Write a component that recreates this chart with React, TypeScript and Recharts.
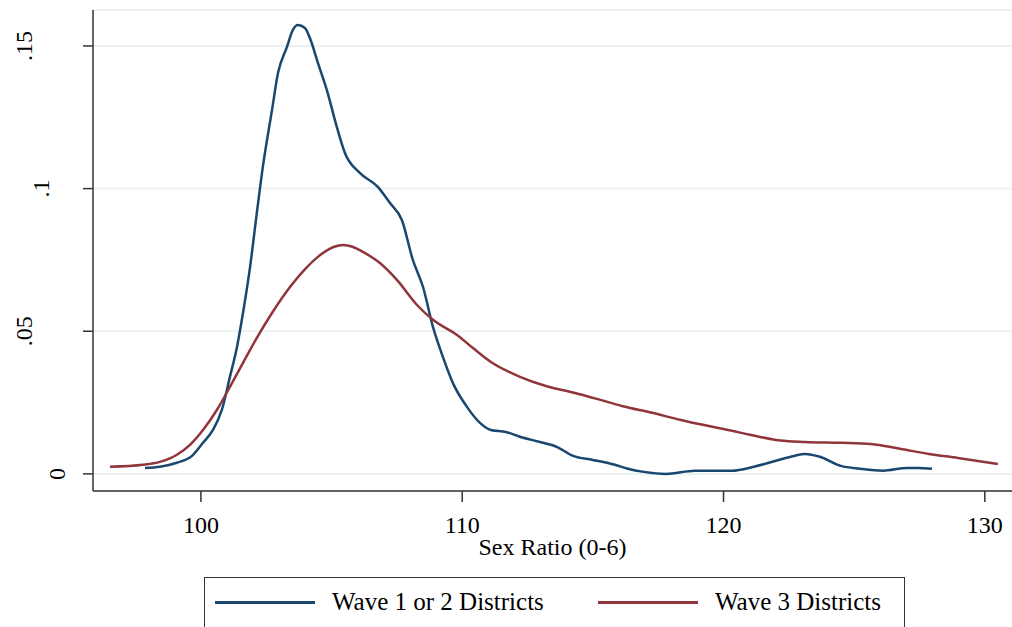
import React from "react";
import { LineChart, Line, XAxis, YAxis, CartesianGrid, Legend, Label } from "recharts";

const waveOneTwoX = [97.86, 98.43, 99.08, 99.66, 100.08, 100.46, 100.8, 101.11, 101.38, 101.61, 101.88, 102.14, 102.37, 102.72, 102.95, 103.29, 103.52, 103.71, 103.98, 104.17, 104.48, 104.82, 105.2, 105.51, 106.08, 106.77, 107.23, 107.69, 108.11, 108.5, 108.88, 109.26, 109.64, 110.18, 110.68, 111.1, 111.67, 112.21, 112.97, 113.62, 114.24, 115.0, 115.84, 116.34, 116.95, 117.8, 118.91, 120.32, 121.16, 122.01, 122.69, 123.12, 123.69, 124.49, 125.22, 126.1, 127.02, 127.44, 127.98];
const waveOneTwoY = [0.0021, 0.0025, 0.0039, 0.0063, 0.0109, 0.0154, 0.0224, 0.034, 0.0445, 0.0564, 0.0725, 0.0915, 0.1076, 0.1275, 0.1405, 0.1496, 0.1556, 0.1573, 0.1563, 0.1528, 0.144, 0.1345, 0.1216, 0.1125, 0.1055, 0.1006, 0.095, 0.089, 0.075, 0.0655, 0.0515, 0.041, 0.0319, 0.0235, 0.0179, 0.0154, 0.0147, 0.013, 0.0112, 0.0095, 0.0063, 0.0049, 0.0032, 0.0018, 0.0007, 0.0, 0.0011, 0.0011, 0.0025, 0.0046, 0.0063, 0.007, 0.006, 0.0028, 0.0018, 0.0011, 0.0021, 0.0021, 0.0018];

const waveThreeX = [96.52, 97.78, 98.43, 99.08, 99.58, 100.08, 100.61, 101.11, 101.61, 102.14, 102.72, 103.41, 104.06, 104.67, 105.1, 105.45, 105.8, 106.2, 106.85, 107.5, 108.27, 108.88, 109.8, 110.41, 111.1, 112.21, 113.2, 114.16, 115.15, 116.11, 117.26, 118.37, 119.21, 120.32, 121.01, 122.01, 123.12, 124.49, 125.64, 126.75, 127.86, 128.97, 130.5];
const waveThreeY = [0.0025, 0.0032, 0.0042, 0.0067, 0.0102, 0.0154, 0.0224, 0.0305, 0.0389, 0.0477, 0.0564, 0.0655, 0.0725, 0.0774, 0.0796, 0.0802, 0.0796, 0.0778, 0.0739, 0.068, 0.0592, 0.054, 0.0487, 0.0441, 0.0392, 0.034, 0.0308, 0.0287, 0.0263, 0.0238, 0.0214, 0.0189, 0.0172, 0.0151, 0.0137, 0.0119, 0.0112, 0.0109, 0.0105, 0.0088, 0.007, 0.0056, 0.0035];

const xTicks = [100, 110, 120, 130];
const yTicks = [0, 0.05, 0.1, 0.15];
const yTickLabels = ["0", ".05", ".1", ".15"];

const seriesNames = ["Wave 1 or 2 Districts", "Wave 3 Districts"];
const BLUE = "#1a476f";
const RED = "#90353b";
const FONT = "'Liberation Serif', 'Times New Roman', serif";

const waveOneTwo = waveOneTwoX.map((x, i) => ({ x, y: waveOneTwoY[i] }));
const waveThree = waveThreeX.map((x, i) => ({ x, y: waveThreeY[i] }));

const XTick = (props: any) => {
  const { x, y, payload } = props;
  return (
    <text x={x} y={y + 29} textAnchor="middle" fontFamily={FONT} fontSize={24} fill="#000">
      {payload.value}
    </text>
  );
};

const YTick = (props: any) => {
  const { y, payload } = props;
  const idx = yTicks.indexOf(payload.value);
  const label = idx >= 0 ? yTickLabels[idx] : String(payload.value);
  const cx = 74 - 16.5 * label.length;
  return (
    <text
      x={cx}
      y={y}
      textAnchor="middle"
      dominantBaseline="central"
      transform={`rotate(-90, ${cx}, ${y})`}
      fontFamily={FONT}
      fontSize={24}
      fill="#000"
    >
      {label}
    </text>
  );
};

const LegendBox = () => (
  <div
    style={{
      position: "relative",
      width: 701,
      height: 70,
      border: "1.5px solid #333",
      boxSizing: "border-box",
      background: "#fff",
      fontFamily: FONT,
      fontSize: 25,
      color: "#000",
    }}
  >
    <div style={{ position: "absolute", left: 10, top: 23, width: 100, height: 3, background: BLUE }} />
    <div style={{ position: "absolute", left: 127, top: 9, whiteSpace: "nowrap", lineHeight: "30px" }}>{seriesNames[0]}</div>
    <div style={{ position: "absolute", left: 393, top: 23, width: 100, height: 3, background: RED }} />
    <div style={{ position: "absolute", left: 510, top: 9, whiteSpace: "nowrap", lineHeight: "30px" }}>{seriesNames[1]}</div>
  </div>
);

export default function App() {
  return (
    <div style={{ position: "absolute", left: 0, top: 0, width: 1012, height: 627, background: "#fff", overflow: "hidden" }}>
      <LineChart width={1012} height={627} margin={{ top: 10, right: 0, bottom: 36, left: 0 }}>
        <CartesianGrid horizontal={true} vertical={false} stroke="#eaf2f3" strokeWidth={2} />
        <XAxis
          type="number"
          dataKey="x"
          domain={[95.87, 131.04]}
          ticks={xTicks}
          allowDataOverflow
          height={30}
          tickSize={11}
          tickLine={{ stroke: "#333", strokeWidth: 1.5 }}
          axisLine={{ stroke: "#333", strokeWidth: 1.5 }}
          tick={<XTick />}
        >
          <Label
            content={(p: any) => {
              const vb = p.viewBox || {};
              return (
                <text x={vb.x + vb.width / 2} y={vb.y + 64} textAnchor="middle" fontFamily={FONT} fontSize={24} fill="#000">
                  Sex Ratio (0-6)
                </text>
              );
            }}
          />
        </XAxis>
        <YAxis
          type="number"
          dataKey="y"
          domain={[-0.006, 0.1626]}
          ticks={yTicks}
          allowDataOverflow
          width={93}
          tickSize={10}
          tickLine={{ stroke: "#333", strokeWidth: 1.5 }}
          axisLine={{ stroke: "#333", strokeWidth: 1.5 }}
          tick={<YTick />}
        />
        <Legend
          content={<LegendBox />}
          wrapperStyle={{ position: "absolute", left: 204, top: 577, width: 701, height: 70 }}
        />
        <Line
          data={waveOneTwo}
          dataKey="y"
          name={seriesNames[0]}
          type="monotone"
          stroke={BLUE}
          strokeWidth={2.5}
          dot={false}
          isAnimationActive={false}
        />
        <Line
          data={waveThree}
          dataKey="y"
          name={seriesNames[1]}
          type="monotone"
          stroke={RED}
          strokeWidth={2.5}
          dot={false}
          isAnimationActive={false}
        />
      </LineChart>
    </div>
  );
}
